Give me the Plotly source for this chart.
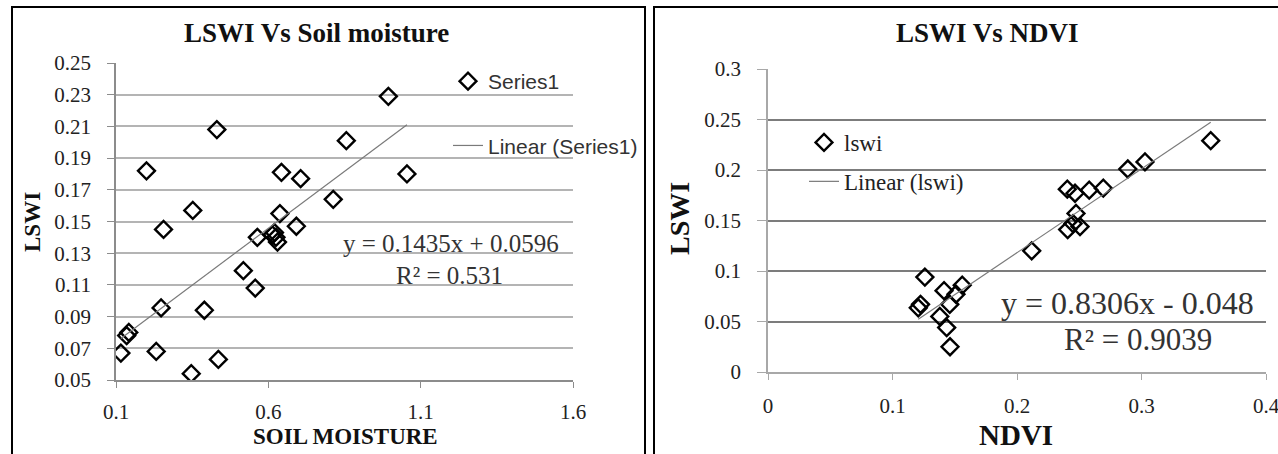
import plotly.graph_objects as go

# ---------------- data ----------------
soil_x = [0.116, 0.135, 0.142, 0.232, 0.248, 0.200, 0.256, 0.347, 0.352, 0.390,
          0.431, 0.436, 0.518, 0.557, 0.564, 0.613, 0.620, 0.625, 0.630, 0.638,
          0.643, 0.692, 0.706, 0.813, 0.856, 0.994, 1.055]
soil_lswi = [0.067, 0.078, 0.080, 0.068, 0.0955, 0.182, 0.145, 0.054, 0.157, 0.094,
             0.208, 0.063, 0.119, 0.108, 0.140, 0.1415, 0.143, 0.140, 0.137, 0.155,
             0.181, 0.147, 0.177, 0.164, 0.201, 0.229, 0.180]
soil_slope, soil_icpt = 0.1435, 0.0596

ndvi_x = [0.1207, 0.1225, 0.126, 0.138, 0.1414, 0.1435, 0.1462, 0.146, 0.151, 0.156,
          0.2118, 0.2407, 0.245, 0.2474, 0.2506, 0.2404, 0.2466, 0.258, 0.2693, 0.289,
          0.3028, 0.3556]
ndvi_lswi = [0.0635, 0.067, 0.094, 0.055, 0.0805, 0.044, 0.025, 0.067, 0.077, 0.086,
             0.120, 0.141, 0.147, 0.157, 0.144, 0.181, 0.177, 0.180, 0.182, 0.201,
             0.208, 0.229]
ndvi_slope, ndvi_icpt = 0.8306, -0.048

W, H = 1278, 454
def PX(p):
    return p / W
def PY(p):
    return 1 - p / H

SERIF = "Liberation Serif"
SANS = "Liberation Sans"

fig = go.Figure()

marker = dict(symbol="diamond-open", size=13, color="black", line=dict(width=2.4, color="black"))

# left chart
fig.add_trace(go.Scatter(x=soil_x, y=soil_lswi, mode="markers", name="Series1",
                         marker=marker, xaxis="x", yaxis="y", legend="legend",
                         legendgroup="a"))
sx = [min(soil_x), max(soil_x)]
fig.add_trace(go.Scatter(x=sx, y=[soil_slope * v + soil_icpt for v in sx], mode="lines",
                         name="Linear (Series1)", line=dict(color="#7a7a7a", width=1.2),
                         xaxis="x", yaxis="y", legend="legend", legendgroup="b"))

# right chart
fig.add_trace(go.Scatter(x=ndvi_x, y=ndvi_lswi, mode="markers", name="lswi",
                         marker=marker, xaxis="x2", yaxis="y2", legend="legend2",
                         legendgroup="c"))
nx = [min(ndvi_x), max(ndvi_x)]
fig.add_trace(go.Scatter(x=nx, y=[ndvi_slope * v + ndvi_icpt for v in nx], mode="lines",
                         name="Linear (lswi)", line=dict(color="#7a7a7a", width=1.2),
                         xaxis="x2", yaxis="y2", legend="legend2", legendgroup="d"))

tickfont_l = dict(family=SERIF, size=21, color="#222")
tickfont_r = dict(family=SERIF, size=21, color="#222")

common = dict(automargin=False, zeroline=False, showline=True, linewidth=1.5,
              ticks="outside", ticklabeloverflow="allow")

fig.update_layout(
    template="none",
    width=W, height=H, margin=dict(l=0, r=0, t=0, b=0, pad=0), autosize=False,
    paper_bgcolor="white", plot_bgcolor="white",
    xaxis=dict(domain=[PX(116), PX(573)], range=[0.1, 1.6], tick0=0.1, dtick=0.5,
               showgrid=False, linecolor="#8c8c8c", ticklen=6, tickcolor="#8c8c8c",
               tickfont=tickfont_l, anchor="y", ticklabelstandoff=6, **common),
    yaxis=dict(domain=[PY(380), PY(63)], range=[0.05, 0.25], tick0=0.05, dtick=0.02,
               tickformat=".2f", showgrid=True, gridcolor="#b4b4b4", gridwidth=1.5,
               linecolor="#8c8c8c", ticklen=7, tickcolor="#8c8c8c", tickfont=tickfont_l,
               anchor="x", ticklabelstandoff=12, **common),
    xaxis2=dict(domain=[PX(768), PX(1266)], range=[0, 0.4], tick0=0, dtick=0.1,
                showgrid=False, linecolor="#a8a8a8", ticklen=6, tickcolor="#a8a8a8",
                tickfont=tickfont_r, anchor="y2", ticklabelstandoff=8, **common),
    yaxis2=dict(domain=[PY(372), PY(69)], range=[0, 0.3], tick0=0, dtick=0.05,
                showgrid=True, gridcolor="#7c7c7c", gridwidth=1.5, linecolor="#a8a8a8",
                ticklen=9, tickcolor="#a8a8a8", tickfont=tickfont_r, anchor="x2",
                ticklabelstandoff=12, **common),
    legend=dict(x=PX(448), y=PY(61), xanchor="left", yanchor="top",
                font=dict(family=SANS, size=21, color="#333"), bgcolor="rgba(0,0,0,0)",
                borderwidth=0, tracegroupgap=34, itemclick=False),
    legend2=dict(x=PX(804), y=PY(121), xanchor="left", yanchor="top",
                 font=dict(family=SERIF, size=23, color="#222"), bgcolor="rgba(0,0,0,0)",
                 borderwidth=0, tracegroupgap=6, itemclick=False),
    showlegend=True,
)

ann = []
def text(x, y, s, size, bold=False, xanchor="center", angle=0, family=SERIF, color="#111"):
    ann.append(dict(x=PX(x), y=PY(y), xref="paper", yref="paper", showarrow=False,
                    text=("<b>%s</b>" % s) if bold else s, textangle=angle,
                    xanchor=xanchor, yanchor="middle",
                    font=dict(family=family, size=size, color=color)))

text(316, 33, "LSWI Vs Soil moisture", 27, bold=True)
text(345, 436, "SOIL MOISTURE", 23, bold=True)
text(32, 222, "LSWI", 23, bold=True, angle=-90)
text(451, 244, "y = 0.1435x + 0.0596", 25, color="#333")
text(450, 275, "R² = 0.531", 25, color="#333")

text(988, 33, "LSWI Vs NDVI", 27, bold=True)
text(1016, 435, "NDVI", 29, bold=True)
text(679, 219, "LSWI", 28, bold=True, angle=-90)
text(999, 303, "y = 0.8306x - 0.048", 32, xanchor="left", color="#333")
text(1138, 339, "R² = 0.9039", 31, color="#333")
fig.update_layout(annotations=ann)

# panel borders
shapes = []
for x0, x1 in [(12, 645), (654, 1300)]:
    shapes.append(dict(type="rect", xref="paper", yref="paper",
                       x0=PX(x0), x1=PX(x1), y0=PY(470), y1=PY(7),
                       line=dict(color="black", width=2), fillcolor="rgba(0,0,0,0)"))
fig.update_layout(shapes=shapes)

fig.write_html("out.html", config={"displayModeBar": False},
               post_script="document.body.style.margin='0';document.body.style.overflow='hidden';")
